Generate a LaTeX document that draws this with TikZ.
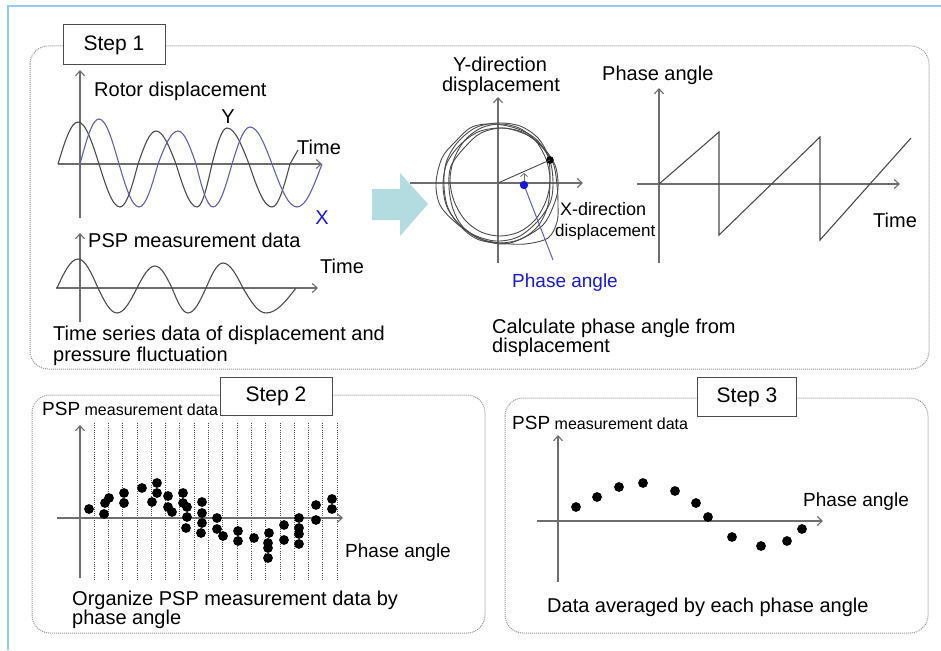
\documentclass[tikz,border=0pt]{standalone}
\usepackage{fontspec}
\setmainfont{Liberation Sans}
\usetikzlibrary{arrows.meta}
\definecolor{framec}{RGB}{150,200,245}
\definecolor{dotc}{RGB}{150,150,150}
\definecolor{axisc}{RGB}{110,110,110}
\definecolor{wavec}{RGB}{75,75,75}
\definecolor{bluewave}{RGB}{95,95,185}
\definecolor{labblue}{RGB}{25,25,220}
\definecolor{tealc}{RGB}{178,220,224}
\begin{document}
\begin{tikzpicture}[x=1pt,y=-1pt,
  txt/.style={inner sep=0pt, font=\fontsize{20}{22}\selectfont, anchor=base west},
  stepbox/.style={draw=wavec, line width=1pt, fill=white, inner sep=0pt, font=\fontsize{21}{24}\selectfont},
  panel/.style={draw=dotc, line width=1pt, dash pattern=on 1pt off 1pt, rounded corners=18pt},
  axis/.style={draw=axisc, line width=1.1pt, -{Straight Barb[length=5pt,width=9pt]}},
  wave/.style={draw=wavec, line width=1.1pt},
  bwave/.style={draw=bluewave, line width=1.1pt},
  loop/.style={draw=wavec, line width=0.9pt},
  bin/.style={draw=wavec, line width=0.8pt, dash pattern=on 1pt off 1.2pt},
  pt/.style={fill=black}
]
\useasboundingbox (0,0) rectangle (941,650);
\fill[white] (0,0) rectangle (941,650);
% outer frame (top and left edges)
\draw[framec, line width=2pt] (8,650) -- (8,6) -- (941,6);

% ---------------- Step 1 ----------------
\draw[panel] (30,46) rectangle (929,369);
\node[stepbox, minimum width=102pt, minimum height=40pt] (s1) at (114,45) {Step 1};

% rotor displacement plot
\coordinate (a1b) at (80,218); \coordinate (a1t) at (80,70);
\coordinate (a1l) at (58,164); \coordinate (a1r) at (322,164);
\draw[axis] (a1b) -- (a1t);
\draw[axis] (a1l) -- (a1r);
\draw[wave] (58,164) sin (78,122) cos (99,164) sin (120,207) cos (138,164) sin (156,131) cos (176,164) sin (197,207) cos (212,164) sin (227,128) cos (249,164) sin (272,207) cos (290,164) -- (298,150);
\draw[bwave] (80,164) sin (99,119) cos (119,164) sin (139,207) cos (158,164) sin (178,131) cos (196,164) sin (213,207) cos (232,164) sin (250,127) cos (272,164) sin (297,207) cos (322,164);
\node[txt] (rotor) at (94,96) {Rotor displacement};
\node[txt, anchor=base] (ylab) at (228,124) {Y};
\node[txt] (time1) at (297,154) {Time};
\node[txt, anchor=base, text=labblue] (xlab) at (322,224) {X};

% PSP time series plot
\coordinate (a2b) at (80,322); \coordinate (a2t) at (80,233);
\coordinate (a2l) at (56,288); \coordinate (a2r) at (318,288);
\draw[axis] (a2b) -- (a2t);
\draw[axis] (a2l) -- (a2r);
\draw[wave] (57,288) sin (78,259) cos (98,288) sin (117,313) cos (137,288) sin (155,266) cos (172,288) sin (188,313) cos (206,288) sin (223,263) cos (243,288) sin (266,313) cos (296,288);
\node[txt] (psp1) at (88,247) {PSP measurement data};
\node[txt] (time2) at (320,273) {Time};
\node[txt] (ts1) at (53,340) {Time series data of displacement and};
\node[txt] (ts2) at (53,361) {pressure fluctuation};

% big arrow
\fill[tealc] (372,189) -- (400,189) -- (400,173) -- (428,204) -- (400,236) -- (400,220) -- (372,220) -- cycle;

% orbit plot
\coordinate (a3b) at (498,263); \coordinate (a3t) at (498,97);
\coordinate (a3l) at (410,183); \coordinate (a3r) at (583,183);
\draw[axis] (a3b) -- (a3t);
\draw[axis] (a3l) -- (a3r);
\draw[loop] plot[smooth cycle, tension=0.55] coordinates {(553,184) (550,161) (537,140) (518,129) (494,124) (472,127) (455,142) (442,158) (436,183) (440,205) (455,222) (474,235) (496,241) (518,237) (537,222) (550,203)};
\draw[loop] plot[smooth cycle, tension=0.55] coordinates {(558,188) (555,165) (541,145) (525,134) (503,128) (481,133) (465,147) (451,166) (449,187) (453,209) (463,227) (483,240) (504,244) (523,238) (543,225) (553,207)};
\draw[loop] plot[smooth cycle, tension=0.55] coordinates {(550,180) (546,159) (535,140) (519,128) (500,124) (481,128) (465,140) (454,159) (450,180) (454,201) (465,220) (481,232) (500,236) (519,232) (535,220) (546,201)};
\draw[loop] plot[smooth cycle, tension=0.55] coordinates {(557,185) (553,163) (540,145) (522,132) (500,128) (478,132) (460,145) (447,163) (443,185) (447,207) (460,225) (478,238) (500,243) (525,244) (548,238) (557,222) (558,205)};
\draw[loop] plot[smooth cycle, tension=0.55] coordinates {(550,178) (548,156) (538,138) (520,126) (497,123) (475,128) (457,143) (446,163) (444,186) (448,208) (460,226) (477,239) (499,243) (521,239) (538,226) (548,205)};
\coordinate (orig) at (498,183);
\fill[black] (550,160) circle (3.8pt) coordinate (bdot);
\draw[wavec, line width=0.9pt] (orig) -- (bdot);
\draw[axisc, line width=0.8pt, -{Straight Barb[length=3pt,width=7pt]}] (524,184) -- (524,173);
\coordinate (bluedot) at (524,185);
\coordinate (blueend) at (553,260);
\draw[bluewave, line width=1pt] (bluedot) -- (blueend);
\fill[labblue] (bluedot) circle (4.2pt);
\node[txt, anchor=base] (ydir1) at (500,72) {Y-direction};
\node[txt, anchor=base] (ydir2) at (501,92) {displacement};
\node[txt, font=\fontsize{18}{20}\selectfont] (xdir1) at (560,215) {X-direction};
\node[txt, font=\fontsize{17}{20}\selectfont] (xdir2) at (555,236) {displacement};
\node[txt, text=labblue, font=\fontsize{19}{22}\selectfont] (phb) at (512,287) {Phase angle};
\node[txt] (calc1) at (492,333) {Calculate phase angle from};
\node[txt] (calc2) at (492,352) {displacement};

% phase angle vs time
\coordinate (a4b) at (659,263); \coordinate (a4t) at (659,88);
\coordinate (a4l) at (637,184); \coordinate (a4r) at (900,184);
\draw[axis] (a4b) -- (a4t);
\draw[axis] (a4l) -- (a4r);
\draw[wave] (659,184) -- (719,132) -- (719,235) -- (820,137) -- (820,240) -- (911,138);
\node[txt] (ph1) at (602,81) {Phase angle};
\node[txt] (time3) at (873,227) {Time};

% ---------------- Step 2 ----------------
\draw[panel] (32,395) rectangle (485,633);
\foreach \i in {0,...,17} {
  \draw[bin] (94+14.3*\i,423) -- (94+14.3*\i,580);
}
\coordinate (a5b) at (80,578); \coordinate (a5t) at (80,425);
\coordinate (a5l) at (57,518); \coordinate (a5r) at (343,518);
\draw[axis] (a5b) -- (a5t);
\draw[axis] (a5l) -- (a5r);
\foreach \p in {(89,509),(104,514),(105,503),(109,498),(124,493),(124,503),(142,488),(152,502),(157,483),(157,493),(168,496),(168,507),(172,512),(183,493),(183,503),(187,507),(187,517),(186,528),(202,502),(202,513),(202,523),(201,533),(217,518),(217,529),(223,536),(238,531),(238,541),(254,538),(269,533),(268,543),(268,548),(268,558),(284,525),(284,540),(299,518),(299,528),(299,534),(299,544),(316,505),(316,520),(332,499),(332,509)} {
  \fill[pt] \p circle (4.9pt);
}
\node[stepbox, minimum width=112pt, minimum height=38pt] (s2) at (276,396) {Step 2};
\node[txt] (psp2) at (42,415) {{\fontsize{19}{22}\selectfont PSP}{\fontsize{16}{20}\selectfont\ measurement data}};
\node[txt, font=\fontsize{19}{22}\selectfont] (ph2) at (345,557) {Phase angle};
\node[txt] (org1) at (72,605) {Organize PSP measurement data by};
\node[txt] (org2) at (72,624) {phase angle};

% ---------------- Step 3 ----------------
\draw[panel] (505,398) rectangle (928,633);
\coordinate (a6b) at (558,582); \coordinate (a6t) at (558,435);
\coordinate (a6l) at (537,521); \coordinate (a6r) at (823,521);
\draw[axis] (a6b) -- (a6t);
\draw[axis] (a6l) -- (a6r);
\foreach \p in {(576,507),(597,497),(619,487),(643,483),(675,491),(696,503),(708,517),(732,537),(761,546),(787,541),(802,529)} {
  \fill[pt] \p circle (4.9pt);
}
\node[stepbox, minimum width=99pt, minimum height=39pt] (s3) at (747,397) {Step 3};
\node[txt] (psp3) at (512,429) {{\fontsize{19}{22}\selectfont PSP}{\fontsize{16}{20}\selectfont\ measurement data}};
\node[txt, font=\fontsize{19}{22}\selectfont] (ph3) at (803,506) {Phase angle};
\node[txt] (avg) at (547,612) {Data averaged by each phase angle};
\end{tikzpicture}
\end{document}
